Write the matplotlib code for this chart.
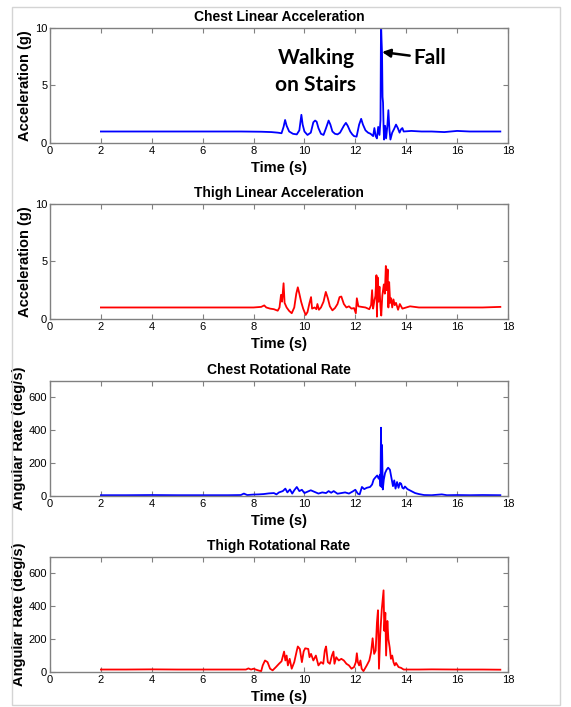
import numpy as np
import matplotlib
matplotlib.use("Agg")
import matplotlib.pyplot as plt
from matplotlib.patches import Rectangle

plt.rcParams['font.family'] = ['Liberation Sans', 'DejaVu Sans']

# (time [s], value) pairs
chest_acc = [(2.0, 1.0), (4.0, 1.0), (6.0, 1.0), (7.5, 1.0), (8.3, 0.98), (8.7, 0.95), (8.95, 0.9),
             (9.1, 0.85), (9.18, 1.4), (9.24, 2.0), (9.3, 1.5), (9.4, 1.0), (9.55, 0.8), (9.7, 0.75),
             (9.8, 1.1), (9.88, 2.45), (9.93, 1.6), (10.0, 1.0), (10.12, 0.7), (10.25, 0.9), (10.35, 1.8),
             (10.42, 1.95), (10.48, 1.85), (10.55, 1.3), (10.65, 0.8), (10.75, 0.7), (10.85, 1.3),
             (10.95, 1.95), (11.02, 1.6), (11.1, 1.0), (11.2, 0.8), (11.3, 0.75), (11.4, 0.9), (11.55, 1.5),
             (11.63, 1.75), (11.7, 1.5), (11.8, 1.0), (11.88, 0.75), (11.95, 0.6), (12.05, 0.55),
             (12.15, 1.6), (12.23, 2.1), (12.3, 1.6), (12.4, 1.1), (12.5, 0.9), (12.6, 0.8), (12.7, 0.6),
             (12.75, 1.3), (12.8, 0.6), (12.85, 0.4), (12.9, 1.4), (12.95, 0.7), (12.99, 2.0), (13.01, 10.5),
             (13.03, 9.0), (13.05, 7.8), (13.07, 4.0), (13.09, 3.5), (13.11, 1.5), (13.13, 0.3), (13.17, 1.5),
             (13.21, 0.4), (13.26, 1.5), (13.3, 2.85), (13.34, 1.2), (13.38, 0.3), (13.45, 0.9), (13.52, 1.2),
             (13.6, 1.6), (13.67, 1.3), (13.74, 0.9), (13.8, 1.2), (13.85, 1.3), (13.9, 1.0), (14.2, 1.05),
             (14.6, 1.0), (15.0, 1.0), (15.5, 0.95), (16.0, 1.05), (16.5, 1.0), (17.0, 1.0), (17.7, 1.0)]

thigh_acc = [(2.0, 1.0), (4.0, 1.0), (6.0, 1.0), (8.0, 1.0), (8.3, 1.05), (8.42, 1.18), (8.5, 1.0),
             (8.65, 0.9), (8.8, 0.85), (8.95, 0.72), (9.02, 1.0), (9.08, 2.1), (9.12, 1.5), (9.18, 3.1),
             (9.22, 1.4), (9.3, 1.0), (9.4, 0.7), (9.5, 0.5), (9.6, 1.0), (9.68, 2.2), (9.74, 2.75),
             (9.8, 2.2), (9.87, 1.5), (9.95, 0.9), (10.05, 0.35), (10.12, 0.6), (10.2, 1.4), (10.26, 1.9),
             (10.3, 0.9), (10.4, 1.0), (10.47, 0.85), (10.51, 1.3), (10.57, 0.8), (10.65, 1.0), (10.75, 1.5),
             (10.84, 2.35), (10.92, 1.8), (11.0, 1.1), (11.1, 0.75), (11.2, 0.95), (11.3, 1.3), (11.38, 1.9),
             (11.45, 1.95), (11.55, 1.3), (11.65, 1.0), (11.75, 1.1), (11.85, 0.9), (11.95, 0.95),
             (12.02, 0.5), (12.06, 1.8), (12.12, 1.1), (12.25, 1.05), (12.4, 1.0), (12.55, 0.85),
             (12.62, 1.2), (12.66, 2.5), (12.7, 0.9), (12.75, 1.6), (12.79, 2.0), (12.83, 3.8), (12.85, 0.2),
             (12.88, 3.6), (12.91, 1.5), (12.95, 2.8), (12.99, 1.0), (13.02, 0.3), (13.06, 2.0), (13.12, 3.0),
             (13.16, 2.2), (13.2, 4.6), (13.23, 2.5), (13.27, 4.3), (13.3, 1.0), (13.33, 3.2), (13.37, 1.4),
             (13.41, 1.8), (13.45, 1.0), (13.5, 1.7), (13.55, 1.2), (13.6, 1.4), (13.68, 0.8), (13.75, 1.3),
             (13.85, 0.9), (14.0, 1.0), (14.15, 1.1), (14.5, 1.0), (15.0, 1.0), (16.0, 1.0), (17.0, 1.0),
             (17.7, 1.05)]

chest_rot = [(2.0, 5), (3.0, 5), (4.0, 6), (5.0, 5), (6.0, 5), (7.0, 5), (7.5, 6), (7.62, 15), (7.75, 6),
             (8.0, 9), (8.2, 10), (8.4, 12), (8.6, 16), (8.8, 18), (8.9, 10), (9.0, 22), (9.15, 30),
             (9.25, 45), (9.33, 22), (9.43, 40), (9.52, 15), (9.6, 35), (9.7, 55), (9.8, 30), (9.9, 38),
             (10.0, 18), (10.1, 25), (10.25, 35), (10.4, 25), (10.55, 15), (10.7, 22), (10.85, 18),
             (10.95, 30), (11.05, 20), (11.15, 30), (11.3, 14), (11.45, 18), (11.6, 22), (11.75, 15),
             (11.9, 28), (12.0, 38), (12.1, 14), (12.17, 10), (12.26, 55), (12.35, 42), (12.45, 50),
             (12.58, 55), (12.66, 70), (12.72, 100), (12.8, 115), (12.86, 125), (12.92, 105), (12.97, 130),
             (12.99, 60), (13.01, 415), (13.03, 55), (13.05, 310), (13.08, 40), (13.12, 100), (13.17, 140),
             (13.23, 160), (13.29, 172), (13.36, 160), (13.42, 110), (13.48, 60), (13.53, 95), (13.58, 45),
             (13.64, 85), (13.7, 50), (13.75, 80), (13.8, 75), (13.85, 50), (13.9, 45), (13.95, 58),
             (14.05, 42), (14.2, 30), (14.35, 18), (14.5, 12), (14.7, 6), (15.0, 5), (15.4, 10), (15.6, 5),
             (16.0, 6), (16.5, 5), (17.0, 6), (17.7, 5)]

thigh_rot = [(2.0, 15), (3.0, 15), (4.0, 16), (5.0, 15), (6.0, 15), (7.0, 15), (7.7, 15), (7.8, 22),
             (7.9, 15), (8.0, 20), (8.1, 14), (8.22, 8), (8.3, 5), (8.36, 40), (8.45, 70), (8.55, 60),
             (8.65, 20), (8.75, 10), (8.88, 30), (9.0, 50), (9.1, 65), (9.2, 124), (9.25, 70), (9.3, 100),
             (9.35, 40), (9.42, 80), (9.5, 20), (9.6, 60), (9.7, 130), (9.74, 155), (9.82, 140), (9.9, 60),
             (9.97, 125), (10.03, 144), (10.15, 140), (10.2, 90), (10.26, 110), (10.35, 70), (10.45, 100),
             (10.55, 40), (10.65, 60), (10.74, 50), (10.8, 130), (10.85, 155), (10.92, 60), (11.0, 50),
             (11.08, 100), (11.14, 124), (11.18, 50), (11.25, 90), (11.35, 70), (11.45, 80), (11.55, 70),
             (11.65, 50), (11.75, 40), (11.85, 20), (11.95, 30), (12.02, 60), (12.06, 114), (12.1, 60),
             (12.15, 40), (12.2, 70), (12.25, 20), (12.32, 5), (12.45, 40), (12.55, 70), (12.62, 120),
             (12.68, 205), (12.74, 110), (12.8, 130), (12.85, 300), (12.89, 375), (12.93, 20), (12.98, 230),
             (13.04, 380), (13.11, 496), (13.14, 250), (13.18, 360), (13.21, 100), (13.26, 310), (13.3, 200),
             (13.35, 150), (13.4, 80), (13.45, 100), (13.5, 60), (13.55, 40), (13.6, 55), (13.7, 30),
             (13.8, 25), (13.9, 15), (14.5, 15), (15.0, 16), (16.0, 15), (17.0, 15), (17.7, 14)]

titles = ["Chest Linear Acceleration", "Thigh Linear Acceleration",
          "Chest Rotational Rate", "Thigh Rotational Rate"]
ylabels = ["Acceleration (g)", "Acceleration (g)", "Angular Rate (deg/s)", "Angular Rate (deg/s)"]
colors = ["#0000ff", "#ff0000", "#0000ff", "#ff0000"]
series = [chest_acc, thigh_acc, chest_rot, thigh_rot]
ylims = [(0, 10), (0, 10), (0, 700), (0, 700)]
yticks = [[0, 5, 10], [0, 5, 10], [0, 200, 400, 600], [0, 200, 400, 600]]
xticks = list(range(0, 19, 2))

fig = plt.figure(figsize=(5.71, 7.07), dpi=100)

# light frame around the whole slide
fig.patches.append(Rectangle((12 / 571, 2 / 707), 548 / 571, 698 / 707, transform=fig.transFigure,
                             fill=False, edgecolor="#d4d4d4", lw=1))

bottoms = [0.7977, 0.5488, 0.2984, 0.0495]
axes = []
for i in range(4):
    ax = fig.add_axes([0.0876, bottoms[i], 0.802, 0.163])
    d = np.array(series[i])
    ax.plot(d[:, 0], d[:, 1], color=colors[i], lw=1.3)
    ax.set_xlim(0, 18)
    ax.set_ylim(*ylims[i])
    ax.set_xticks(xticks)
    ax.set_yticks(yticks[i])
    ax.tick_params(direction="in", top=True, right=True, length=3.5, width=0.8,
                   color="#808080", labelsize=8, pad=2)
    for s in ax.spines.values():
        s.set_color("#808080")
        s.set_linewidth(1)
    ax.set_title(titles[i], fontsize=10, fontweight="bold", pad=5)
    ax.set_xlabel("Time (s)", fontsize=10.5, fontweight="bold", labelpad=4)
    ax.set_ylabel(ylabels[i], fontsize=10.5, fontweight="bold", labelpad=2)
    axes.append(ax)

# labels for the top panel
ax0 = axes[0]
ax0.text(10.45, 6.2, "Walking\non Stairs", family=["Lato", "DejaVu Sans"], fontweight="bold",
         fontsize=15, ha="center", va="center", linespacing=1.4)
ax0.annotate("Fall", xy=(13.05, 7.9), xytext=(14.3, 7.35), family=["Lato", "DejaVu Sans"],
             fontweight="bold", fontsize=15, ha="left", va="center",
             arrowprops=dict(arrowstyle="-|>", color="black", lw=1.8, mutation_scale=12,
                             shrinkA=1, shrinkB=0))

fig.savefig("out.png", dpi=100)
